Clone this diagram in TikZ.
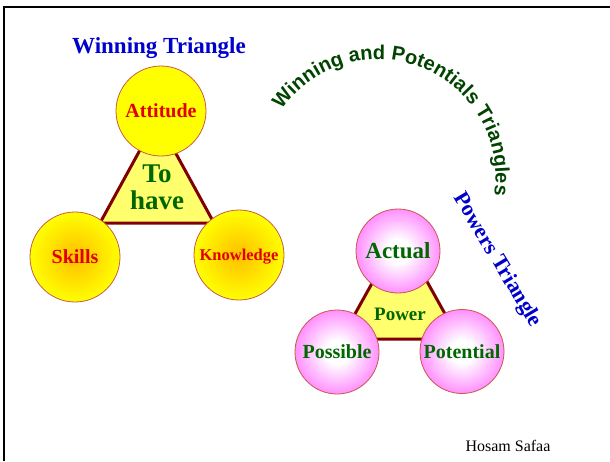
\documentclass[tikz,border=0pt]{standalone}
\usepackage{fontspec}
\setmainfont{Liberation Serif}
\setsansfont{Liberation Sans}
\usetikzlibrary{decorations.text}
\definecolor{trired}{RGB}{128,0,0}
\definecolor{trifill}{RGB}{255,255,110}
\definecolor{ballrim}{RGB}{200,90,70}
\definecolor{ttgreen}{RGB}{0,102,0}
\definecolor{arcgreen}{RGB}{0,68,0}
\definecolor{ttred}{RGB}{225,0,0}
\definecolor{ttblue}{RGB}{0,0,204}
\definecolor{ballmag}{RGB}{255,0,255}
\definecolor{ballpink}{RGB}{255,150,255}
\definecolor{ballcore}{RGB}{255,255,255}
\definecolor{ballorange}{RGB}{255,190,0}
\definecolor{ballyellow}{RGB}{255,255,0}
\pgfdeclareradialshading{magball}{\pgfpoint{0bp}{0bp}}{color(0bp)=(ballcore); color(7bp)=(ballcore); color(24bp)=(ballpink); color(41bp)=(ballmag); color(50bp)=(ballmag)}
\pgfdeclareradialshading{yelball}{\pgfpoint{0bp}{0bp}}{color(0bp)=(ballorange); color(25bp)=(ballyellow); color(50bp)=(ballyellow)}
\begin{document}
\begin{tikzpicture}[x=1pt,y=1pt,
  frameline/.style={line width=2.5pt, draw=black},
  tri/.style={draw=trired, line width=3pt, fill=trifill, line join=miter},
  yball/.style={circle, minimum size=90pt, inner sep=0pt, draw=ballrim, line width=0.8pt,
    font=\bfseries\fontsize{20}{20}\selectfont, text=ttred, text height=13pt, text depth=0pt},
  yshaded/.style={yball, shade, shading=yelball},
  mball/.style={circle, minimum size=84pt, inner sep=0pt, draw=ballrim, line width=0.8pt,
    shade, shading=magball, font=\bfseries\fontsize{20}{20}\selectfont, text=ttgreen,
    text height=13pt, text depth=0pt},
  bluetitle/.style={inner sep=0pt, text=ttblue, font=\bfseries\fontsize{23}{23}\selectfont},
  greentext/.style={inner sep=0pt, text=ttgreen}
]
\useasboundingbox (0,0) rectangle (610,-461);
\fill[white] (0,0) rectangle (610,-461);
\coordinate (fa) at (4,-461);
\coordinate (fb) at (4,-7);
\coordinate (fc) at (610,-7);
\draw[frameline] (fa) -- (fb) -- (fc);

% triangles
\draw[tri] (157,-119) -- (100,-223) -- (214,-223) -- cycle;
\draw[tri] (400,-233) -- (341,-339) -- (459,-339) -- cycle;

% winning triangle circles
\node[yball, fill=ballyellow] (att) at (161,-111) {Attitude};
\node[yshaded] (skl) at (75,-257) {Skills};
\node[yshaded, font=\bfseries\fontsize{16.5}{16.5}\selectfont, text height=11pt] (knw) at (239,-255) {Knowledge};

\node[greentext, font=\bfseries\fontsize{27}{27}\selectfont, align=center] (have) at (157,-187) {To\\have};

% powers triangle circles
\node[mball, font=\bfseries\fontsize{23}{23}\selectfont, text height=15pt] (act) at (398,-251) {Actual};
\node[mball] (pos) at (337,-352) {Possible};
\node[mball] (pot) at (462,-351.5) {Potential};
\node[greentext, anchor=base, font=\bfseries\fontsize{19}{19}\selectfont] (pow) at (400,-320) {Power};

% titles
\node[bluetitle, anchor=base] (wt) at (159,-53) {Winning Triangle};
\node[bluetitle, font=\bfseries\fontsize{22}{22}\selectfont, rotate=-59] (pt) at (497,-260) {Powers Triangle};
\path[decorate, decoration={text along path,
   text={|\sffamily\bfseries\fontsize{20}{20}\selectfont\color{arcgreen}|Winning and Potentials Triangles},
   text align=left}]
   (378,-177) ++(145:117.5) arc[start angle=145, end angle=-30, radius=117.5];

\node[anchor=base, inner sep=0pt, font=\fontsize{16}{16}\selectfont] (author) at (508,-451.5) {Hosam Safaa};
\end{tikzpicture}
\end{document}
